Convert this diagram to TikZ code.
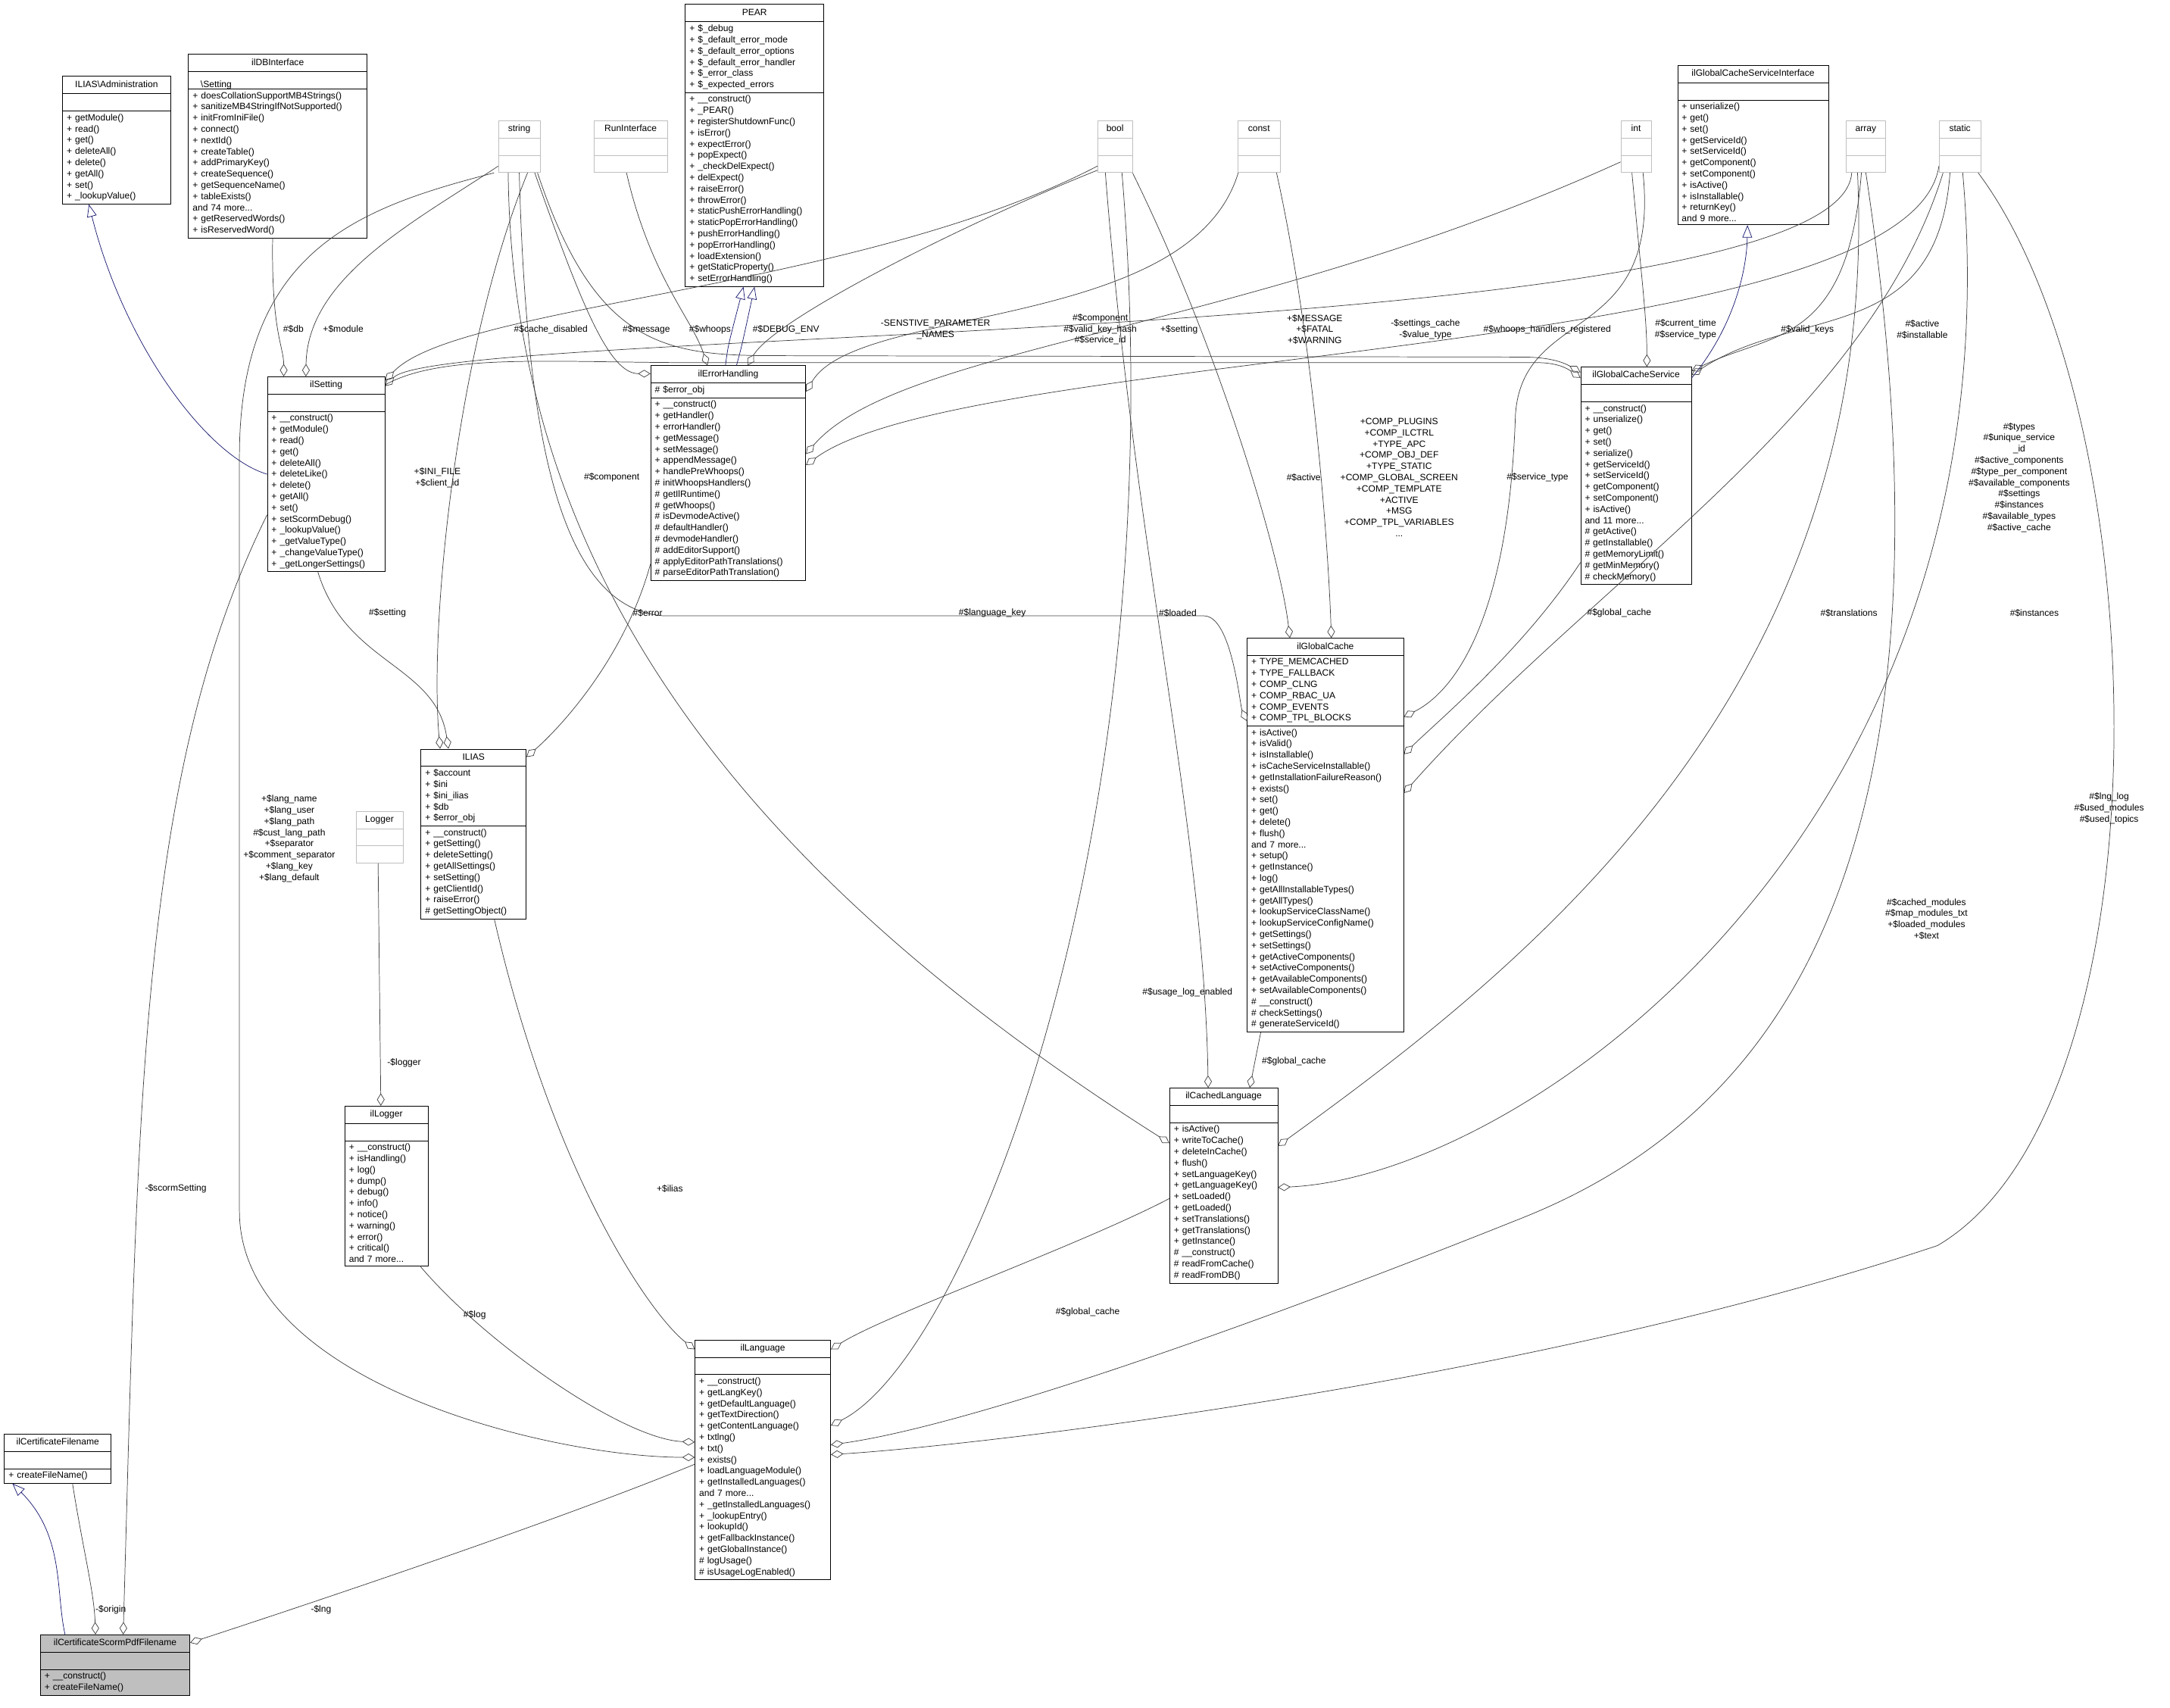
\documentclass[tikz,border=0pt]{standalone}
\usepackage{fontspec}
\setmainfont{Liberation Sans}
\usetikzlibrary{shapes.multipart,arrows.meta,positioning}
\definecolor{edgegray}{HTML}{404040}
\definecolor{primgray}{HTML}{BFBFBF}
\definecolor{inhblue}{HTML}{191970}
\newcommand\ctitle[1]{\hbox to\hsize{\hss\strut#1\hss}}
\tikzset{
  cls/.style={draw=black, rectangle split, rectangle split parts=3, anchor=north west,
    inner xsep=3pt, inner ysep=2pt, align=left,
    font=\fontsize{6.6}{8.1}\selectfont},
  prim/.style={cls, draw=primgray},
  agg/.style={draw=edgegray, -{Diamond[open,length=9pt,width=5.5pt]}},
  inh/.style={draw=inhblue, -{Triangle[open,length=9pt,width=7pt]}},
  lbl/.style={font=\fontsize{6.6}{8.1}\selectfont, align=center, inner sep=0pt}
}
\begin{document}
\begin{tikzpicture}[x=1pt, y=-1pt]
\useasboundingbox (0,0) rectangle (1568,1234);
% top row
\node[cls, text width=72pt] (admSetting) at (45,55) {\ctitle{ILIAS\textbackslash Administration}\ctitle{\textbackslash Setting}
  \nodepart{two}\strut
  \nodepart{three}+ getModule()\\+ read()\\+ get()\\+ deleteAll()\\+ delete()\\+ getAll()\\+ set()\\+ \_lookupValue()};
\node[cls, text width=123pt] (dbInterface) at (136,39) {\ctitle{ilDBInterface}
  \nodepart{two}\strut
  \nodepart{three}+ doesCollationSupportMB4Strings()\\+ sanitizeMB4StringIfNotSupported()\\+ initFromIniFile()\\+ connect()\\+ nextId()\\+ createTable()\\+ addPrimaryKey()\\+ createSequence()\\+ getSequenceName()\\+ tableExists()\\and 74 more...\\+ getReservedWords()\\+ isReservedWord()};
\node[prim, text width=24pt] (string) at (360,87) {\ctitle{string} \nodepart{two}\strut \nodepart{three}\strut};
\node[prim, text width=47pt] (runInterface) at (429,87) {\ctitle{RunInterface} \nodepart{two}\strut \nodepart{three}\strut};
\node[cls, text width=94pt] (pear) at (495,3) {\ctitle{PEAR}
  \nodepart{two}+ \$\_debug\\+ \$\_default\_error\_mode\\+ \$\_default\_error\_options\\+ \$\_default\_error\_handler\\+ \$\_error\_class\\+ \$\_expected\_errors
  \nodepart{three}+ \_\_construct()\\+ \_PEAR()\\+ registerShutdownFunc()\\+ isError()\\+ expectError()\\+ popExpect()\\+ \_checkDelExpect()\\+ delExpect()\\+ raiseError()\\+ throwError()\\+ staticPushErrorHandling()\\+ staticPopErrorHandling()\\+ pushErrorHandling()\\+ popErrorHandling()\\+ loadExtension()\\+ getStaticProperty()\\+ setErrorHandling()};
\node[prim, text width=19pt] (bool) at (793,87) {\ctitle{bool} \nodepart{two}\strut \nodepart{three}\strut};
\node[prim, text width=25pt] (const) at (894,87) {\ctitle{const} \nodepart{two}\strut \nodepart{three}\strut};
\node[prim, text width=16pt] (int) at (1171,87) {\ctitle{int} \nodepart{two}\strut \nodepart{three}\strut};
\node[cls, text width=103pt] (cacheInterface) at (1212,47) {\ctitle{ilGlobalCacheServiceInterface}
  \nodepart{two}\strut
  \nodepart{three}+ unserialize()\\+ get()\\+ set()\\+ getServiceId()\\+ setServiceId()\\+ getComponent()\\+ setComponent()\\+ isActive()\\+ isInstallable()\\+ returnKey()\\and 9 more...};
\node[prim, text width=22pt] (array) at (1334,87) {\ctitle{array} \nodepart{two}\strut \nodepart{three}\strut};
\node[prim, text width=24pt] (static) at (1401,87) {\ctitle{static} \nodepart{two}\strut \nodepart{three}\strut};
% middle row
\node[cls, text width=79pt] (setting) at (193,272) {\ctitle{ilSetting}
  \nodepart{two}\strut
  \nodepart{three}+ \_\_construct()\\+ getModule()\\+ read()\\+ get()\\+ deleteAll()\\+ deleteLike()\\+ delete()\\+ getAll()\\+ set()\\+ setScormDebug()\\+ \_lookupValue()\\+ \_getValueType()\\+ \_changeValueType()\\+ \_getLongerSettings()};
\node[cls, text width=106pt] (errorHandling) at (470,264) {\ctitle{ilErrorHandling}
  \nodepart{two}\# \$error\_obj
  \nodepart{three}+ \_\_construct()\\+ getHandler()\\+ errorHandler()\\+ getMessage()\\+ setMessage()\\+ appendMessage()\\+ handlePreWhoops()\\\# initWhoopsHandlers()\\\# getIlRuntime()\\\# getWhoops()\\\# isDevmodeActive()\\\# defaultHandler()\\\# devmodeHandler()\\\# addEditorSupport()\\\# applyEditorPathTranslations()\\\# parseEditorPathTranslation()};
\node[cls, text width=74pt] (cacheService) at (1142,265) {\ctitle{ilGlobalCacheService}
  \nodepart{two}\strut
  \nodepart{three}+ \_\_construct()\\+ unserialize()\\+ get()\\+ set()\\+ serialize()\\+ getServiceId()\\+ setServiceId()\\+ getComponent()\\+ setComponent()\\+ isActive()\\and 11 more...\\\# getActive()\\\# getInstallable()\\\# getMemoryLimit()\\\# getMinMemory()\\\# checkMemory()};
\node[cls, text width=70pt] (ilias) at (304,541) {\ctitle{ILIAS}
  \nodepart{two}+ \$account\\+ \$ini\\+ \$ini\_ilias\\+ \$db\\+ \$error\_obj
  \nodepart{three}+ \_\_construct()\\+ getSetting()\\+ deleteSetting()\\+ getAllSettings()\\+ setSetting()\\+ getClientId()\\+ raiseError()\\\# getSettingObject()};
\node[prim, text width=28pt] (logger) at (257,586) {\ctitle{Logger} \nodepart{two}\strut \nodepart{three}\strut};
\node[cls, text width=107pt] (globalCache) at (901,461) {\ctitle{ilGlobalCache}
  \nodepart{two}+ TYPE\_MEMCACHED\\+ TYPE\_FALLBACK\\+ COMP\_CLNG\\+ COMP\_RBAC\_UA\\+ COMP\_EVENTS\\+ COMP\_TPL\_BLOCKS
  \nodepart{three}+ isActive()\\+ isValid()\\+ isInstallable()\\+ isCacheServiceInstallable()\\+ getInstallationFailureReason()\\+ exists()\\+ set()\\+ get()\\+ delete()\\+ flush()\\and 7 more...\\+ setup()\\+ getInstance()\\+ log()\\+ getAllInstallableTypes()\\+ getAllTypes()\\+ lookupServiceClassName()\\+ lookupServiceConfigName()\\+ getSettings()\\+ setSettings()\\+ getActiveComponents()\\+ setActiveComponents()\\+ getAvailableComponents()\\+ setAvailableComponents()\\\# \_\_construct()\\\# checkSettings()\\\# generateServiceId()};
% bottom row
\node[cls, text width=54pt] (ilLogger) at (249,799) {\ctitle{ilLogger}
  \nodepart{two}\strut
  \nodepart{three}+ \_\_construct()\\+ isHandling()\\+ log()\\+ dump()\\+ debug()\\+ info()\\+ notice()\\+ warning()\\+ error()\\+ critical()\\and 7 more...};
\node[cls, text width=72pt] (cachedLang) at (845,786) {\ctitle{ilCachedLanguage}
  \nodepart{two}\strut
  \nodepart{three}+ isActive()\\+ writeToCache()\\+ deleteInCache()\\+ flush()\\+ setLanguageKey()\\+ getLanguageKey()\\+ setLoaded()\\+ getLoaded()\\+ setTranslations()\\+ getTranslations()\\+ getInstance()\\\# \_\_construct()\\\# readFromCache()\\\# readFromDB()};
\node[cls, text width=92pt] (language) at (502,968) {\ctitle{ilLanguage}
  \nodepart{two}\strut
  \nodepart{three}+ \_\_construct()\\+ getLangKey()\\+ getDefaultLanguage()\\+ getTextDirection()\\+ getContentLanguage()\\+ txtlng()\\+ txt()\\+ exists()\\+ loadLanguageModule()\\+ getInstalledLanguages()\\and 7 more...\\+ \_getInstalledLanguages()\\+ \_lookupEntry()\\+ lookupId()\\+ getFallbackInstance()\\+ getGlobalInstance()\\\# logUsage()\\\# isUsageLogEnabled()};
\node[cls, text width=71pt] (certFilename) at (3,1036) {\ctitle{ilCertificateFilename}
  \nodepart{two}\strut
  \nodepart{three}+ createFileName()};
\node[cls, fill=primgray, text width=102pt] (scormFilename) at (29,1181) {\ctitle{ilCertificateScormPdfFilename}
  \nodepart{two}\strut
  \nodepart{three}+ \_\_construct()\\+ createFileName()};

% inheritance
\draw[inh] (setting.west) .. controls (150,330) and (90,250) .. ([xshift=-20pt]admSetting.south);
\draw[inh] ([xshift=-2pt]errorHandling.north) .. controls (526,250) .. ([xshift=-8pt]pear.south);
\draw[inh] ([xshift=6pt]errorHandling.north) .. controls (536,250) .. ([xshift=0pt]pear.south);
\draw[inh] ([yshift=-8pt]cacheService.north east) .. controls (1250,240) and (1262,200) .. ([xshift=-4pt]cacheInterface.south);
\draw[inh] ([xshift=18pt]scormFilename.north west) .. controls (40,1150) and (47,1110) .. ([xshift=6pt]certFilename.south west);

% aggregation: top area
\draw[agg] ([xshift=61pt]dbInterface.south west) .. controls (196,240) and (205,250) .. ([xshift=12pt]setting.north west);
\draw[agg] ([yshift=-33pt]string.north west) .. controls (300,160) and (222,200) .. ([xshift=28pt]setting.north west);
\draw[agg] ([yshift=-33pt]bool.north west) .. controls (620,210) and (330,220) .. ([yshift=-3pt]setting.north east);
\draw[agg] ([xshift=4pt]array.south west) .. controls (1330,250) and (320,236) .. ([yshift=-7pt]setting.north east);
\draw[agg] ([xshift=-4pt]string.south east) .. controls (420,220) and (440,270) .. ([yshift=-6pt]errorHandling.north west);
\draw[agg] ([xshift=-3pt]runInterface.south) .. controls (470,200) and (500,230) .. ([xshift=-15pt]errorHandling.north);
\draw[agg] ([yshift=-36pt]bool.north west) .. controls (700,160) and (560,230) .. ([xshift=14pt]errorHandling.north);
\draw[agg] ([xshift=-15pt]const.south) .. controls (860,240) and (620,220) .. ([yshift=-19pt]errorHandling.north east);
\draw[agg] ([yshift=-30pt]int.north west) .. controls (900,240) and (650,250) .. ([yshift=-64pt]errorHandling.north east);
\draw[agg] ([yshift=-33pt]static.north west) .. controls (1380,260) and (700,250) .. ([yshift=-72pt]errorHandling.north east);
\draw[agg] ([xshift=-2pt]string.south east) .. controls (430,250) and (480,257) .. (560,257) -- (1100,258) .. controls (1120,258) and (1130,262) .. ([yshift=-4pt]cacheService.north west);
\draw[agg] ([yshift=-6pt]setting.north east) .. controls (320,255) and (400,262) .. (500,262) -- (1110,262) .. controls (1125,262) and (1132,266) .. ([yshift=-8pt]cacheService.north west);
\draw[agg] ([xshift=-3pt]int.south) .. controls (1186,200) and (1190,230) .. ([xshift=48pt]cacheService.north west);
\draw[agg] ([xshift=11pt]array.south west) .. controls (1335,250) and (1280,240) .. ([yshift=-3pt]cacheService.north east);
\draw[agg] ([xshift=8pt]static.south west) .. controls (1400,250) and (1300,220) .. ([yshift=-6pt]cacheService.north east);

% aggregation: ILIAS, ilGlobalCache, ilCachedLanguage
\draw[agg] ([xshift=6pt]string.south) .. controls (330,250) and (310,450) .. ([xshift=14pt]ilias.north west);
\draw[agg] ([xshift=-6pt]setting.south) .. controls (250,480) and (315,480) .. ([xshift=20pt]ilias.north west);
\draw[agg] ([yshift=12pt]errorHandling.south west) .. controls (450,480) and (400,530) .. ([yshift=-6pt]ilias.north east);
\draw[agg] ([xshift=0pt]string.south) .. controls (380,300) and (400,440) .. (480,445) -- (870,445) .. controls (890,445) and (896,510) .. ([yshift=-60pt]globalCache.north west);
\draw[agg] ([yshift=-38pt]bool.north east) .. controls (880,250) and (925,400) .. ([xshift=31pt]globalCache.north west);
\draw[agg] ([xshift=-3pt]const.south east) .. controls (950,250) and (960,400) .. ([xshift=61pt]globalCache.north west);
\draw[agg] ([xshift=5pt]int.south) .. controls (1200,250) and (1100,220) .. (1095,300) .. controls (1090,450) and (1050,500) .. ([yshift=-57pt]globalCache.north east);
\draw[agg] ([yshift=16pt]cacheService.south west) .. controls (1100,470) and (1040,520) .. ([yshift=-84pt]globalCache.north east);
\draw[agg] ([xshift=3pt]static.south west) .. controls (1350,300) and (1150,420) .. ([yshift=-112pt]globalCache.north east);
\draw[agg] ([xshift=-8pt]string.south) .. controls (370,400) and (520,620) .. ([yshift=-40pt]cachedLang.north west);
\draw[agg] ([xshift=-7pt]bool.south) .. controls (820,400) and (870,600) .. ([xshift=28pt]cachedLang.north west);
\draw[agg] ([xshift=10pt]globalCache.south west) -- ([xshift=58pt]cachedLang.north west);
\draw[agg] ([xshift=-6pt]array.south) .. controls (1360,500) and (1100,700) .. ([yshift=-42pt]cachedLang.north east);
\draw[agg] ([xshift=2pt]static.south) .. controls (1460,600) and (1100,850) .. ([yshift=-72pt]cachedLang.north east);

% aggregation: ilLanguage and lower classes
\draw[agg] ([xshift=-1pt]logger.south) -- ([xshift=-4pt]ilLogger.north);
\draw[agg] ([xshift=-3pt]string.south west) .. controls (260,150) and (173,180) .. (173,330) -- (173,875) .. controls (173,1000) and (400,1053) .. ([yshift=-85pt]language.north west);
\draw[agg] ([xshift=-6pt]ilLogger.south east) .. controls (350,970) and (450,1040) .. ([yshift=-74pt]language.north west);
\draw[agg] ([xshift=15pt]ilias.south) .. controls (400,850) and (470,950) .. ([yshift=-7pt]language.north west);
\draw[agg] ([yshift=-80pt]cachedLang.north west) .. controls (780,900) and (640,950) .. ([yshift=-7pt]language.north east);
\draw[agg] ([xshift=5pt]bool.south) .. controls (850,600) and (700,980) .. ([yshift=-62pt]language.north east);
\draw[agg] ([xshift=0pt]array.south) .. controls (1420,600) and (1300,800) .. (1100,880) .. controls (900,960) and (700,1030) .. ([yshift=-76pt]language.north east);
\draw[agg] ([xshift=-2pt]static.south east) .. controls (1560,300) and (1570,800) .. (1400,900) .. controls (1100,1000) and (700,1045) .. ([yshift=-83pt]language.north east);
\draw[agg] ([yshift=-100pt]setting.north west) .. controls (100,560) and (100,800) .. ([xshift=60pt]scormFilename.north west);
\draw[agg] ([xshift=-28pt]certFilename.south east) .. controls (60,1120) and (68,1150) .. ([xshift=40pt]scormFilename.north west);
\draw[agg] ([yshift=-90pt]language.north west) .. controls (400,1100) and (220,1160) .. ([yshift=-6pt]scormFilename.north east);

% connector labels
\node[lbl] (lblDb) at (212,238) {\#\$db};
\node[lbl] (lblModule) at (248,238) {+\$module};
\node[lbl] (lblCacheDisabled) at (398,238) {\#\$cache\_disabled};
\node[lbl] (lblMessage) at (467,238) {\#\$message};
\node[lbl] (lblWhoops) at (513,238) {\#\$whoops};
\node[lbl] (lblDebugEnv) at (568,238) {\#\$DEBUG\_ENV};
\node[lbl] (lblSensitive) at (676,238) {-SENSTIVE\_PARAMETER\\\_NAMES};
\node[lbl] (lblComponent) at (795,238) {\#\$component\\\#\$valid\_key\_hash\\\#\$service\_id};
\node[lbl] (lblSetting) at (852,238) {+\$setting};
\node[lbl] (lblMessageConst) at (950,238) {+\$MESSAGE\\+\$FATAL\\+\$WARNING};
\node[lbl] (lblSettingsCache) at (1030,238) {-\$settings\_cache\\-\$value\_type};
\node[lbl] (lblWhoopsReg) at (1118,238) {\#\$whoops\_handlers\_registered};
\node[lbl] (lblCurrentTime) at (1218,238) {\#\$current\_time\\\#\$service\_type};
\node[lbl] (lblValidKeys) at (1306,238) {\#\$valid\_keys};
\node[lbl] (lblActive) at (1389,238) {\#\$active\\\#\$installable};
\node[lbl] (lblIniFile) at (316,345) {+\$INI\_FILE\\+\$client\_id};
\node[lbl] (lblCompGc) at (442,345) {\#\$component};
\node[lbl] (lblActiveGc) at (942,345) {\#\$active};
\node[lbl] (lblConstGc) at (1011,345) {+COMP\_PLUGINS\\+COMP\_ILCTRL\\+TYPE\_APC\\+COMP\_OBJ\_DEF\\+TYPE\_STATIC\\+COMP\_GLOBAL\_SCREEN\\+COMP\_TEMPLATE\\+ACTIVE\\+MSG\\+COMP\_TPL\_VARIABLES\\...};
\node[lbl] (lblServiceType) at (1111,345) {\#\$service\_type};
\node[lbl] (lblTypes) at (1459,345) {\#\$types\\\#\$unique\_service\\\_id\\\#\$active\_components\\\#\$type\_per\_component\\\#\$available\_components\\\#\$settings\\\#\$instances\\\#\$available\_types\\\#\$active\_cache};
\node[lbl] (lblSettingIlias) at (280,443) {\#\$setting};
\node[lbl] (lblError) at (468,443) {\#\$error};
\node[lbl] (lblLangKey) at (717,443) {\#\$language\_key};
\node[lbl] (lblLoaded) at (851,443) {\#\$loaded};
\node[lbl] (lblGcService) at (1170,443) {\#\$global\_cache};
\node[lbl] (lblTranslations) at (1336,443) {\#\$translations};
\node[lbl] (lblInstances) at (1470,443) {\#\$instances};
\node[lbl] (lblLang) at (209,606) {+\$lang\_name\\+\$lang\_user\\+\$lang\_path\\\#\$cust\_lang\_path\\+\$separator\\+\$comment\_separator\\+\$lang\_key\\+\$lang\_default};
\node[lbl] (lblLogger) at (292,768) {-\$logger};
\node[lbl] (lblGcCached) at (935,767) {\#\$global\_cache};
\node[lbl] (lblUsageLog) at (858,717) {\#\$usage\_log\_enabled};
\node[lbl] (lblCachedModules) at (1392,664) {\#\$cached\_modules\\\#\$map\_modules\_txt\\+\$loaded\_modules\\+\$text};
\node[lbl] (lblLngLog) at (1524,584) {\#\$lng\_log\\\#\$used\_modules\\\#\$used\_topics};
\node[lbl] (lblScorm) at (127,859) {-\$scormSetting};
\node[lbl] (lblIlias) at (484,859) {+\$ilias};
\node[lbl] (lblLog) at (343,950) {\#\$log};
\node[lbl] (lblGcLang) at (786,948) {\#\$global\_cache};
\node[lbl] (lblOrigin) at (80,1163) {-\$origin};
\node[lbl] (lblLng) at (232,1163) {-\$lng};
\end{tikzpicture}
\end{document}
